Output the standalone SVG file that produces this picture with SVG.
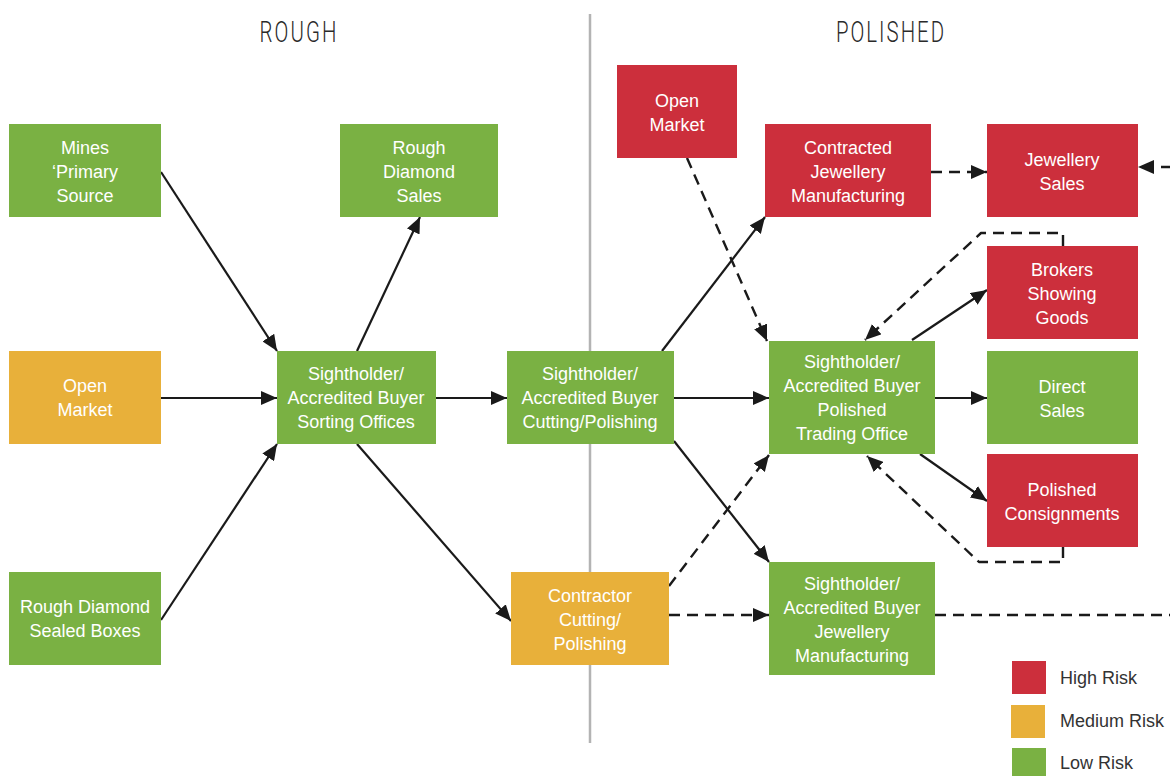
<svg xmlns="http://www.w3.org/2000/svg" width="1170" height="776" viewBox="0 0 1170 776">
<style>
.g{fill:#7AB143}.r{fill:#CC2F3C}.o{fill:#E8B03A}
.t{font-family:"Liberation Sans",Arial,sans-serif;font-size:18px;fill:#fff;text-anchor:middle}
.h{font-family:Roboto,"Liberation Sans",sans-serif;font-weight:300;font-size:30px;fill:#2a2a2a;text-anchor:middle}
.lg{font-family:"Liberation Sans",Arial,sans-serif;font-size:18px;fill:#333}
.s{stroke:#1a1a1a;stroke-width:2.2;fill:none;marker-end:url(#ah)}
.d{stroke:#1a1a1a;stroke-width:2.4;fill:none;stroke-dasharray:11 7;stroke-linejoin:round}
.da{marker-end:url(#ah)}
</style>
<defs>
<marker id="ah" markerUnits="userSpaceOnUse" markerWidth="18" markerHeight="14" refX="16" refY="7" orient="auto">
<path d="M0,0 L16,7 L0,14 Z" fill="#1a1a1a"/>
</marker>
</defs>
<rect width="1170" height="776" fill="#fff"/>
<line x1="590" y1="14" x2="590" y2="743" stroke="#b3b3b3" stroke-width="2.5"/>
<text class="h" transform="translate(298,42) scale(0.68,1)" x="0" y="0" textLength="113" lengthAdjust="spacing">ROUGH</text>
<text class="h" transform="translate(890,42) scale(0.68,1)" x="0" y="0" textLength="159" lengthAdjust="spacing">POLISHED</text>

<g id="connectors">
<line class="s" x1="161" y1="172" x2="277" y2="351"/>
<line class="s" x1="161" y1="398" x2="277" y2="398"/>
<line class="s" x1="161" y1="620" x2="277" y2="444"/>
<line class="s" x1="357" y1="351" x2="420" y2="217"/>
<line class="s" x1="436" y1="398" x2="507" y2="398"/>
<line class="s" x1="357" y1="444" x2="511" y2="621"/>
<line class="s" x1="662" y1="351" x2="765" y2="217"/>
<line class="s" x1="674" y1="398" x2="769" y2="398"/>
<line class="s" x1="674" y1="441" x2="769" y2="562"/>
<line class="s" x1="935" y1="398" x2="987" y2="398"/>
<line class="s" x1="912" y1="340" x2="987" y2="290"/>
<line class="s" x1="920" y1="454" x2="987" y2="501"/>
<line class="d da" x1="687" y1="158" x2="767" y2="341"/>
<line class="d da" x1="931" y1="172" x2="987" y2="172"/>
<line class="d da" x1="1172" y1="167" x2="1138" y2="167"/>
<path class="d da" d="M1063,246 V233 H981 L865,340"/>
<path class="d da" d="M1063,547 V562 H979 L867,456"/>
<line class="d da" x1="669" y1="586" x2="769" y2="455"/>
<line class="d da" x1="669" y1="615" x2="769" y2="615"/>
<line class="d" x1="935" y1="615" x2="1172" y2="615"/>
</g>

<g id="mines"><rect class="g" x="9" y="124" width="152" height="93"/>
<text class="t" x="85" y="154">Mines</text><text class="t" x="85" y="178">‘Primary</text><text class="t" x="85" y="202">Source</text></g>
<g id="rough-sales"><rect class="g" x="340" y="124" width="158" height="93"/>
<text class="t" x="419" y="154">Rough</text><text class="t" x="419" y="178">Diamond</text><text class="t" x="419" y="202">Sales</text></g>
<g id="open-market-rough"><rect class="o" x="9" y="351" width="152" height="93"/>
<text class="t" x="85" y="392">Open</text><text class="t" x="85" y="416">Market</text></g>
<g id="sealed-boxes"><rect class="g" x="9" y="572" width="152" height="93"/>
<text class="t" x="85" y="613">Rough Diamond</text><text class="t" x="85" y="637">Sealed Boxes</text></g>
<g id="sorting"><rect class="g" x="277" y="351" width="159" height="93"/>
<text class="t" x="356" y="380">Sightholder/</text><text class="t" x="356" y="404">Accredited Buyer</text><text class="t" x="356" y="428">Sorting Offices</text></g>
<g id="cutting"><rect class="g" x="507" y="351" width="167" height="93"/>
<text class="t" x="590" y="380">Sightholder/</text><text class="t" x="590" y="404">Accredited Buyer</text><text class="t" x="590" y="428">Cutting/Polishing</text></g>
<g id="contractor"><rect class="o" x="511" y="572" width="158" height="93"/>
<text class="t" x="590" y="602">Contractor</text><text class="t" x="590" y="626">Cutting/</text><text class="t" x="590" y="650">Polishing</text></g>
<g id="open-market-polished"><rect class="r" x="617" y="65" width="120" height="93"/>
<text class="t" x="677" y="107">Open</text><text class="t" x="677" y="131">Market</text></g>
<g id="contracted-jewellery"><rect class="r" x="765" y="124" width="166" height="93"/>
<text class="t" x="848" y="154">Contracted</text><text class="t" x="848" y="178">Jewellery</text><text class="t" x="848" y="202">Manufacturing</text></g>
<g id="jewellery-sales"><rect class="r" x="987" y="124" width="151" height="93"/>
<text class="t" x="1062" y="166">Jewellery</text><text class="t" x="1062" y="190">Sales</text></g>
<g id="trading"><rect class="g" x="769" y="341" width="166" height="113"/>
<text class="t" x="852" y="368">Sightholder/</text><text class="t" x="852" y="392">Accredited Buyer</text><text class="t" x="852" y="416">Polished</text><text class="t" x="852" y="440">Trading Office</text></g>
<g id="brokers"><rect class="r" x="987" y="246" width="151" height="93"/>
<text class="t" x="1062" y="276">Brokers</text><text class="t" x="1062" y="300">Showing</text><text class="t" x="1062" y="324">Goods</text></g>
<g id="direct-sales"><rect class="g" x="987" y="351" width="151" height="93"/>
<text class="t" x="1062" y="393">Direct</text><text class="t" x="1062" y="417">Sales</text></g>
<g id="consignments"><rect class="r" x="987" y="454" width="151" height="93"/>
<text class="t" x="1062" y="496">Polished</text><text class="t" x="1062" y="520">Consignments</text></g>
<g id="jewellery-mfg"><rect class="g" x="769" y="562" width="166" height="113"/>
<text class="t" x="852" y="590">Sightholder/</text><text class="t" x="852" y="614">Accredited Buyer</text><text class="t" x="852" y="638">Jewellery</text><text class="t" x="852" y="662">Manufacturing</text></g>

<g id="legend">
<rect class="r" x="1012" y="661" width="34" height="33"/>
<text class="lg" x="1060" y="684">High Risk</text>
<rect class="o" x="1011" y="705" width="34" height="33"/>
<text class="lg" x="1060" y="727">Medium Risk</text>
<rect class="g" x="1012" y="748" width="34" height="28"/>
<text class="lg" x="1060" y="769">Low Risk</text>
</g>
</svg>
